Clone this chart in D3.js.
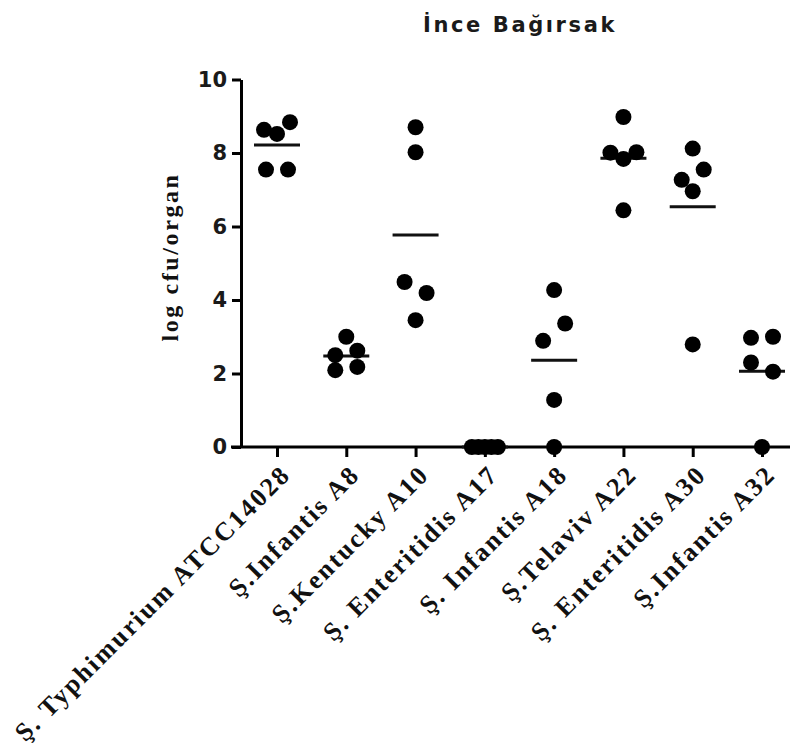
<!DOCTYPE html>
<html>
<head>
<meta charset="utf-8">
<script src="https://cdn.jsdelivr.net/npm/d3@7"></script>
<style>
  html, body { margin: 0; padding: 0; background: #fff; }
  svg { display: block; }
</style>
</head>
<body>
<svg id="chart" width="790" height="752"></svg>
<script>
// Strains on the x axis
const strains = [
  "Ş. Typhimurium ATCC14028",
  "Ş.Infantis A8",
  "Ş.Kentucky A10",
  "Ş. Enteritidis A17",
  "Ş. Infantis A18",
  "Ş.Telaviv A22",
  "Ş. Enteritidis A30",
  "Ş.Infantis A32"
];

// log cfu/organ per animal, one list per strain
const typhimuriumATCC14028 = [8.63, 8.52, 8.84, 7.55, 7.55];
const infantisA8           = [3.00, 2.50, 2.62, 2.09, 2.18];
const kentuckyA10          = [8.70, 8.02, 4.49, 4.19, 3.45];
const enteritidisA17       = [0, 0, 0, 0, 0];
const infantisA18          = [4.27, 2.89, 3.36, 1.28, 0];
const telavivA22           = [8.98, 8.01, 7.84, 8.02, 6.44];
const enteritidisA30       = [8.12, 7.27, 7.55, 6.96, 2.79];
const infantisA32          = [2.97, 3.00, 2.30, 2.05, 0];

const seriesValues = [
  typhimuriumATCC14028, infantisA8, kentuckyA10, enteritidisA17,
  infantisA18, telavivA22, enteritidisA30, infantisA32
];

const yTicks = [0, 2, 4, 6, 8, 10];
const chartTitle = "İnce Bağırsak";
const yTitle = "log cfu/organ";

const svg = d3.select("#chart");
const W = 790;
const axisX = 241, axisY = 447, topY = 79.5;

const x = d3.scalePoint().domain(strains).range([277, 762]);
const y = d3.scaleLinear().domain([0, 10]).range([axisY, topY]);

// Title
svg.append("text")
  .attr("x", 520).attr("y", 32)
  .attr("text-anchor", "middle")
  .style("font-family", "'DejaVu Sans', sans-serif")
  .style("font-weight", "bold")
  .style("font-size", "21px")
  .style("letter-spacing", "2.6px")
  .attr("fill", "#1a1a1a")
  .text(chartTitle);

// Y axis
const yAxis = svg.append("g")
  .attr("transform", `translate(${axisX},0)`)
  .call(d3.axisLeft(y).tickValues(yTicks).tickSize(9).tickPadding(5).tickSizeOuter(0));
yAxis.select(".domain").attr("stroke", "#000").attr("stroke-width", 3);
yAxis.selectAll(".tick line").attr("stroke", "#000").attr("stroke-width", 3);
yAxis.selectAll(".tick text")
  .style("font-family", "'DejaVu Sans', sans-serif")
  .style("font-weight", "bold")
  .style("font-size", "21px")
  .attr("fill", "#1a1a1a");

// X axis: ticks from the point scale, baseline spanning the plot width
const xAxis = svg.append("g")
  .attr("transform", `translate(0,${axisY})`)
  .call(d3.axisBottom(x).tickSize(10).tickFormat(""));
xAxis.select(".domain").remove();
xAxis.selectAll(".tick line").attr("stroke", "#000").attr("stroke-width", 3);
svg.append("line")
  .attr("x1", axisX - 10).attr("x2", W)
  .attr("y1", axisY).attr("y2", axisY)
  .attr("stroke", "#000").attr("stroke-width", 3);

// Rotated category labels
svg.append("g").selectAll("text")
  .data(strains)
  .join("text")
  .attr("transform", d => `translate(${x(d) + 15},${axisY + 29}) rotate(-45)`)
  .attr("text-anchor", "end")
  .style("font-family", "'Liberation Serif', 'Times New Roman', serif")
  .style("font-weight", "bold")
  .style("font-size", "26px")
  .style("letter-spacing", "2.2px")
  .attr("fill", "#111")
  .text(d => d);

// Y axis title
svg.append("text")
  .attr("transform", "translate(178,257) rotate(-90)")
  .attr("text-anchor", "middle")
  .style("font-family", "'Liberation Serif', 'Times New Roman', serif")
  .style("font-weight", "bold")
  .style("font-size", "24px")
  .style("letter-spacing", "2.6px")
  .attr("fill", "#111")
  .text(yTitle);

// Scatter layout: values that sit close together share a row and are
// spread sideways around the category position.
const rowSpan = 17.8;  // max vertical extent (px) of one row
function spreadOffsets(vals) {
  const order = vals.map((v, i) => i).sort((a, b) => vals[b] - vals[a] || a - b);
  let clusters = order.map(i => [i]);
  const py = i => y(vals[i]);
  while (true) {
    let best = -1, bestGap = Infinity;
    for (let k = 0; k < clusters.length - 1; k++) {
      const a = clusters[k], b = clusters[k + 1];
      const gap = py(b[0]) - py(a[a.length - 1]);
      const span = py(b[b.length - 1]) - py(a[0]);
      if (span <= rowSpan && gap < bestGap) { bestGap = gap; best = k; }
    }
    if (best < 0) break;
    clusters.splice(best, 2, clusters[best].concat(clusters[best + 1]));
  }
  const off = new Array(vals.length).fill(0);
  clusters.forEach(c => {
    const n = c.length;
    if (n < 2) return;
    const step = Math.min(22, 26 / (n - 1));
    c.slice().sort((a, b) => a - b).forEach((i, k) => {
      off[i] = (k - (n - 1) / 2) * step;
    });
  });
  return off;
}

const points = [];
strains.forEach((s, si) => {
  const vals = seriesValues[si];
  const off = spreadOffsets(vals);
  vals.forEach((v, i) => points.push({ strain: s, value: v, dx: off[i] }));
});

// Mean lines
svg.append("g").selectAll("line")
  .data(strains.map((s, si) => ({ strain: s, mean: d3.mean(seriesValues[si]) })))
  .join("line")
  .attr("x1", d => x(d.strain) - 23)
  .attr("x2", d => x(d.strain) + 23)
  .attr("y1", d => y(d.mean))
  .attr("y2", d => y(d.mean))
  .attr("stroke", "#111")
  .attr("stroke-width", 3);

// Dots
svg.append("g").selectAll("circle")
  .data(points)
  .join("circle")
  .attr("cx", d => x(d.strain) + d.dx)
  .attr("cy", d => y(d.value))
  .attr("r", 8)
  .attr("fill", "#000");
</script>
</body>
</html>
